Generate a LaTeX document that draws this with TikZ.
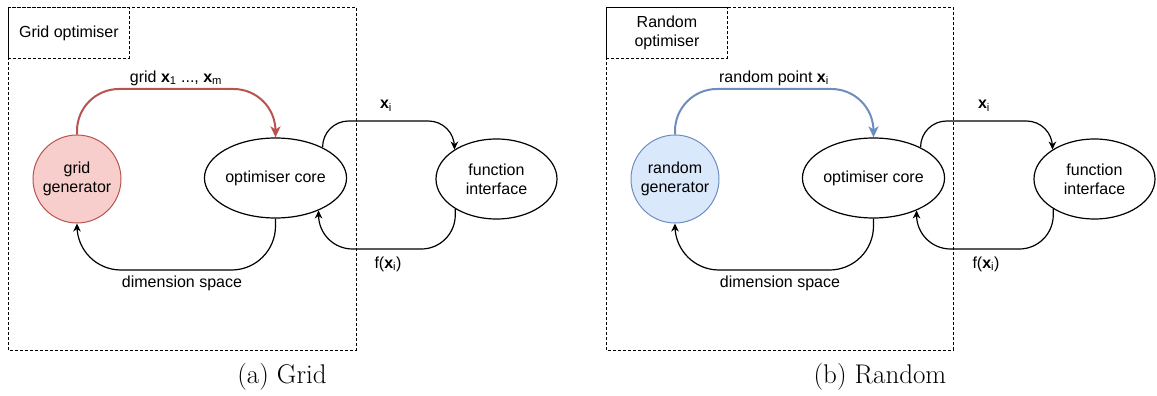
\documentclass[tikz,border=0pt]{standalone}
\usepackage{fontspec}
\newfontfamily\dsans{Liberation Sans}
\usetikzlibrary{arrows.meta,calc,shapes.geometric}
\definecolor{redfill}{HTML}{F8CECC}
\definecolor{redline}{HTML}{B85450}
\definecolor{bluefill}{HTML}{DAE8FC}
\definecolor{blueline}{HTML}{6C8EBF}
\begin{document}
\begin{tikzpicture}[x=1pt,y=-1pt,
  every node/.style={font=\dsans\fontsize{16}{19}\selectfont, inner sep=0pt, align=center},
  dashbox/.style={draw, line width=0.9pt, dash pattern=on 3pt off 2pt},
  ell/.style={draw, ellipse, line width=1.2pt, minimum width=121pt, minimum height=80pt},
  gen/.style={draw, circle, minimum size=88pt, line width=1pt},
  conn/.style={line width=1.2pt, -{Stealth[length=8pt,width=7.5pt,inset=2.5pt]}},
  bigconn/.style={line width=2pt, -{Stealth[length=11pt,width=10pt,inset=3pt]}},
  capt/.style={font=\rmfamily\fontsize{27}{32}\selectfont, anchor=base}
]
\useasboundingbox (0,0) rectangle (1157,396);

% ---------- (a) Grid ----------
\draw[dashbox] (8,7) rectangle (356,350);
\node[dashbox, minimum width=121pt, minimum height=51pt, anchor=north west] (ga) at (8,7) {Grid optimiser};
\node[gen, fill=redfill, draw=redline] (gg) at (77,179) {grid\\generator};
\node[ell] (oca) at (275.5,178) {optimiser core};
\node[ell] (fia) at (496.5,179) {function\\interface};

\draw[bigconn, draw=redline, rounded corners=42pt] (gg.north) |- (176,89) -| (oca.north);
\node (la1) at (176,78) {grid \textbf{x}\textsubscript{1} ..., \textbf{x}\textsubscript{m}};

\draw[conn, rounded corners=26pt] (oca.33) |- (385,121) -| (fia.145);
\node (la2) at (386,106) {\textbf{x}\textsubscript{i}};

\draw[conn, rounded corners=34pt] (fia.216) |- (385,249) -| (oca.-37);
\node (la3) at (388,264) {f(\textbf{x}\textsubscript{i})};

\draw[conn, rounded corners=44pt] (oca.south) |- (176,270) -| (gg.south);
\node (la4) at (182,283) {dimension space};

\node[capt] (capa) at (282,383) {(a) Grid};

% ---------- (b) Random ----------
\begin{scope}[xshift=598pt]
\draw[dashbox] (8,7) rectangle (355,350);
\node[dashbox, minimum width=121pt, minimum height=51pt, anchor=north west] (gb) at (8,7) {Random\\optimiser};
\node[gen, fill=bluefill, draw=blueline] (rg) at (77,179) {random\\generator};
\node[ell] (ocb) at (275.5,178) {optimiser core};
\node[ell] (fib) at (496.5,179) {function\\interface};

\draw[bigconn, draw=blueline, rounded corners=42pt] (rg.north) |- (176,89) -| (ocb.north);
\node (lb1) at (176,78) {random point \textbf{x}\textsubscript{i}};

\draw[conn, rounded corners=26pt] (ocb.33) |- (385,121) -| (fib.145);
\node (lb2) at (386,106) {\textbf{x}\textsubscript{i}};

\draw[conn, rounded corners=34pt] (fib.216) |- (385,249) -| (ocb.-37);
\node (lb3) at (388,264) {f(\textbf{x}\textsubscript{i})};

\draw[conn, rounded corners=44pt] (ocb.south) |- (176,270) -| (rg.south);
\node (lb4) at (182,283) {dimension space};

\node[capt] (capb) at (282,383) {(b) Random};
\end{scope}
\end{tikzpicture}
\end{document}
